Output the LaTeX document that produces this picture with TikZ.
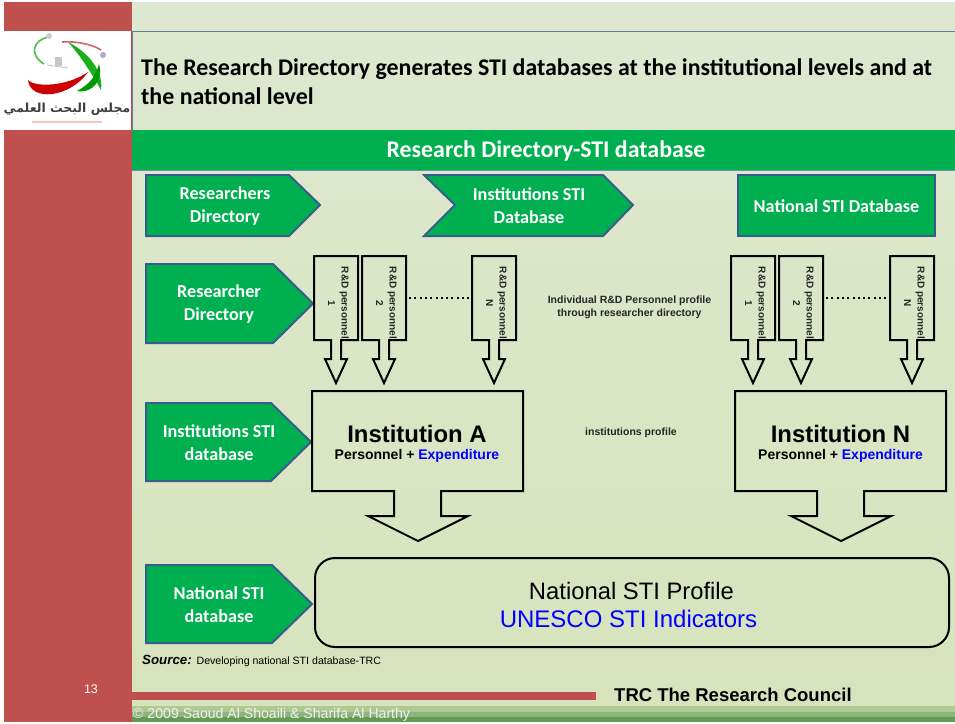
\documentclass[tikz,border=0pt]{standalone}
\usepackage{fontspec}
\setmainfont{Liberation Sans}
\newfontfamily\calfont{Carlito}
\newfontfamily\arabicfont[Script=Arabic]{DejaVu Sans}
\TeXXeTstate=1
\definecolor{trcred}{HTML}{C0504D}
\definecolor{trcgreen}{HTML}{00B050}
\definecolor{trcblue}{HTML}{385D8A}
\definecolor{bgtop}{HTML}{DEE8D0}
\definecolor{bgbot}{HTML}{D7E3BC}
\definecolor{stripa}{HTML}{AFC992}
\definecolor{stripb}{HTML}{8DB47A}
\definecolor{stripc}{HTML}{629B52}
\tikzset{
  callout/.style={draw=trcblue,fill=trcgreen,line width=2pt,line join=miter},
  calltext/.style={font=\calfont\bfseries\fontsize{18.2}{23}\selectfont,text=white,align=center,inner sep=0pt},
  blackshape/.style={draw=black,line width=2pt,line join=miter},
  persontext/.style={font=\bfseries\fontsize{10}{13.5}\selectfont,align=center,inner sep=0pt,rotate=-90,text=black!85},
  smalltext/.style={font=\bfseries\fontsize{10.5}{13}\selectfont,align=center,inner sep=0pt,text=black!85},
  instbig/.style={font=\bfseries\fontsize{23.9}{26}\selectfont,inner sep=0pt},
  instsmall/.style={font=\bfseries\fontsize{14}{15}\selectfont,inner sep=0pt},
  dotline/.style={line width=2pt,dash pattern=on 2pt off 3.3pt}
}
\newcommand{\personbox}[3]{% left x, label, node name
  \draw[blackshape] (#1,256) -- ++(44,0) -- ++(0,84) -- ++(-17,0) -- ++(0,19) -- ++(6,0)
     -- ++(-11,24) -- ++(-11,-24) -- ++(6,0) -- ++(0,-19) -- ++(-17,0) -- cycle;
  \node[persontext] (#3) at (#1+24.5,303) {R\&D personnel\\#2};
}
\newcommand{\instbox}[1]{% left x
  \draw[blackshape] (#1,391) -- ++(211,0) -- ++(0,100) -- ++(-82,0) -- ++(0,25) -- ++(27,0)
     -- ++(-50,25) -- ++(-50,-25) -- ++(26,0) -- ++(0,-25) -- ++(-82,0) -- cycle;
}
\newcommand{\pentabox}[5]{% ytop, ybot, tip x, node name, label
  \draw[callout] (146,#1) -- (#3-40,#1) -- (#3,{(#1+#2)/2}) -- (#3-40,#2) -- (146,#2) -- cycle;
  \node[calltext] (#4) at (219,{(#1+#2)/2+1}) {#5};
}
\begin{document}
\begin{tikzpicture}[x=1pt,y=-1pt]
\useasboundingbox (0,0) rectangle (955,723);
\fill[white] (0,0) rectangle (955,723);
% background
\shade[top color=bgtop,bottom color=bgbot] (132,2) rectangle (955,720);
% left band
\fill[trcred] (4,2) rectangle (132,722);
\fill[white] (4,31) rectangle (131,130);
% logo
\begin{scope}
  \clip (4,31) rectangle (131,130);
  \draw[green!65!black!70,line width=1.6pt] (44,64) .. controls (28,54) and (34,40) .. (48,37);
  \draw[red!70!black!60,line width=1.6pt] (62,42) .. controls (75,41) and (92,44) .. (101,50);
  \fill[green!65!black!90] (68,42) .. controls (84,50) and (104,68) .. (101,90) .. controls (92,74) and (80,55) .. (68,42) -- cycle;
  \fill[green!60!black] (77,91) .. controls (90,84) and (96,76) .. (99,64) .. controls (104,80) and (92,94) .. (77,91) -- cycle;
  \fill[red!80!black] (28,80) .. controls (36,88) and (68,86) .. (88,72) .. controls (70,98) and (30,102) .. (28,80) -- cycle;
  \fill[gray!45] (55,57) rectangle (62,66);
  \draw[gray!50,line width=.8pt] (47,65) -- (68,68);
  \fill[gray!40] (49,36) circle (3);
  \fill[blue!30!gray!50] (103,55) circle (3);
  \node[inner sep=0pt,text=black!75] (logotext) at (67,109) {\arabicfont\bfseries\fontsize{12.5}{14}\selectfont\beginR مجلس البحث العلمي\endR};
  \fill[red!25] (32,121) rectangle (102,123);
\end{scope}
% header
\draw[trcblue!80,line width=.8pt] (132,31) rectangle (956,130);
\node[anchor=north west,inner sep=0pt,align=left,font=\calfont\bfseries\fontsize{23.9}{29}\selectfont] (title) at (141,58)
  {The Research Directory generates STI databases at the institutional levels and at\\the national level};
\fill[trcgreen] (132,130) rectangle (955,170);
\draw[trcblue!70,line width=.6pt] (132,170.5) -- (955,170.5);
\node[inner sep=0pt,text=white,font=\calfont\bfseries\fontsize{23.9}{26}\selectfont] (bar) at (546,151) {Research Directory-STI database};
% top row
\draw[callout] (146,175) -- (289,175) -- (320,205) -- (289,236) -- (146,236) -- cycle;
\node[calltext] (rd) at (225,206) {Researchers\\Directory};
\draw[callout] (424,175) -- (603,175) -- (633,205) -- (603,236) -- (424,236) -- (455,205) -- cycle;
\node[calltext] (isd) at (529,206) {Institutions STI\\Database};
\draw[callout] (738,175) rectangle (935,236);
\node[calltext] (nsd) at (836.5,206) {National STI Database};
% left column
\pentabox{264}{343}{313}{rowa}{Researcher\\Directory}
\pentabox{403}{481}{311}{rowb}{Institutions STI\\database}
\pentabox{565}{643}{312}{rowc}{National STI\\database}
% personnel boxes
\personbox{314}{1}{pa}
\personbox{362}{2}{pb}
\personbox{472}{N}{pc}
\personbox{731}{1}{pd}
\personbox{779}{2}{pe}
\personbox{890}{N}{pf}
\draw[dotline] (409,298) -- (470,298);
\draw[dotline] (826,298) -- (888,298);
\node[smalltext] (indiv) at (629.5,307) {Individual R\&D Personnel profile\\through researcher directory};
\node[smalltext] (instprof) at (631,432.5) {institutions profile};
% institutions
\instbox{312}
\instbox{735}
\node[instbig] (ia) at (417,434) {Institution A};
\node[instsmall] (ias) at (417,456) {Personnel + \textcolor{blue}{Expenditure}};
\node[instbig] (ib) at (840.5,434) {Institution N};
\node[instsmall] (ibs) at (840.5,456) {Personnel + \textcolor{blue}{Expenditure}};
% national
\draw[blackshape,rounded corners=20pt] (315,558) rectangle (949,647);
\node[inner sep=0pt,font=\fontsize{23.8}{27}\selectfont,align=center] (nat) at (631.5,590.5) {National STI Profile};
\node[inner sep=0pt,font=\fontsize{24}{27}\selectfont,text=blue] (unesco) at (628.5,619) {UNESCO STI Indicators};
% source
\node[anchor=west,inner sep=0pt] (src) at (142,661) {\fontsize{13.3}{14}\selectfont\bfseries\itshape Source: \fontsize{10.6}{12}\selectfont\mdseries\upshape Developing national STI database-TRC};
% footer
\fill[trcred] (132,692) rectangle (596,700);
\fill[stripa] (132,706) rectangle (955,712);
\fill[stripb] (132,712) rectangle (955,717);
\fill[stripc] (132,717) rectangle (955,722);
\node[inner sep=0pt,text=white,font=\fontsize{12.5}{14}\selectfont] (num) at (91,689) {13};
\node[anchor=west,inner sep=0pt,font=\bfseries\fontsize{18.5}{19}\selectfont] (trc) at (614,695) {TRC The Research Council};
\node[anchor=west,inner sep=0pt,text=white!90!gray,font=\fontsize{14.1}{16}\selectfont] (copy) at (133,714.5) {© 2009 Saoud Al Shoaili \& Sharifa Al Harthy};
\end{tikzpicture}
\end{document}
